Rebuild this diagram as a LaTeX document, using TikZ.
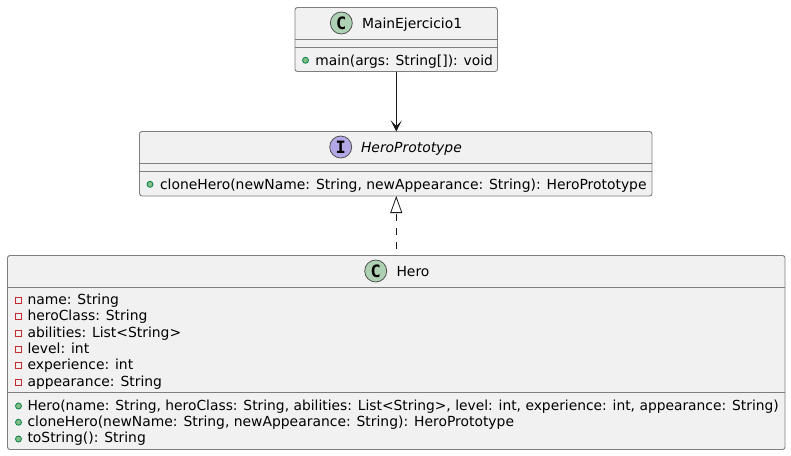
\documentclass[tikz,border=0pt]{standalone}
\usepackage{fontspec}
\setmainfont{DejaVu Sans}
\newfontfamily\spotfont{DejaVu Sans Mono}[Scale=1]
\usetikzlibrary{arrows.meta}
\definecolor{boxfill}{HTML}{F1F1F1}
\definecolor{boxline}{HTML}{7E7E7E}
\definecolor{arrowline}{HTML}{181818}
\definecolor{spotC}{HTML}{ADD1B2}
\definecolor{spotI}{HTML}{B4A7E5}
\definecolor{pubfill}{HTML}{84BE84}
\definecolor{publine}{HTML}{038048}
\definecolor{privline}{HTML}{C82930}
\tikzset{
  x=1pt,y=-1pt,
  umlbox/.style={draw=boxline,fill=boxfill,line width=0.9pt,rounded corners=2.5pt,inner sep=0pt,outer sep=0pt},
  sepline/.style={draw=boxline,line width=0.9pt},
  umltext/.style={anchor=base west,inner sep=0pt,outer sep=0pt,font=\fontsize{13.9}{16}\selectfont,text=black},
  longtext/.style={umltext,font=\fontsize{13.83}{16}\selectfont},
  spot/.style={circle,draw=arrowline!75,line width=0.8pt,minimum size=22pt,inner sep=0pt,outer sep=0pt,font=\spotfont\bfseries\fontsize{17}{17}\selectfont},
  pub/.style={circle,draw=publine,fill=pubfill,line width=0.8pt,minimum size=6pt,inner sep=0pt},
  priv/.style={rectangle,draw=privline,line width=0.8pt,minimum size=6pt,inner sep=0pt},
  conn/.style={draw=arrowline,line width=0.8pt},
}
\begin{document}
\begin{tikzpicture}
\useasboundingbox (0,0) rectangle (791,455);
% boxes
\node[umlbox,minimum width=202.5pt,minimum height=64pt] (main) at (396.25,39.5) {};
\node[umlbox,minimum width=512.5pt,minimum height=64.5pt] (proto) at (395.75,163.75) {};
\node[umlbox,minimum width=777.5pt,minimum height=194pt] (hero) at (396.25,352.5) {};
% compartments
\draw[sepline] (295,39.5) -- (497.5,39.5) (295,47.5) -- (497.5,47.5);
\draw[sepline] (139.5,163) -- (652,163) (139.5,171) -- (652,171);
\draw[sepline] (7.5,287.5) -- (785,287.5) (7.5,392) -- (785,392);
% headers
\node[spot,fill=spotC] (mainspot) at (341.3,23) {C};
\node[umltext] (maintitle) at (362,28.3) {MainEjercicio1};
\node[spot,fill=spotI] (protospot) at (340.7,147) {I};
\node[umltext,font=\fontsize{13.9}{16}\selectfont\itshape] (prototitle) at (361,152.3) {HeroPrototype};
\node[spot,fill=spotC] (herospot) at (375.7,271) {C};
\node[umltext] (herotitle) at (396.5,276.3) {Hero};
% MainEjercicio1 members
\node[pub] (mi1) at (305.5,60.3) {};
\node[longtext] (mt1) at (315.3,65) {main(args: String[]): void};
% HeroPrototype members
\node[pub] (pi1) at (150,184.3) {};
\node[umltext] (pt1) at (160,189) {cloneHero(newName: String, newAppearance: String): HeroPrototype};
% Hero fields
\node[priv] (f1) at (18.5,300.3) {};
\node[umltext] (ft1) at (27.5,304.3) {name: String};
\node[priv] (f2) at (18.5,316.5) {};
\node[umltext] (ft2) at (27.5,320.6) {heroClass: String};
\node[priv] (f3) at (18.5,333) {};
\node[umltext] (ft3) at (27.5,337) {abilities: List<String>};
\node[priv] (f4) at (18.5,349.3) {};
\node[umltext] (ft4) at (27.5,353.3) {level: int};
\node[priv] (f5) at (18.5,365.5) {};
\node[umltext] (ft5) at (27.5,369.5) {experience: int};
\node[priv] (f6) at (18.5,382) {};
\node[umltext] (ft6) at (27.5,386) {appearance: String};
% Hero methods
\node[pub] (h1) at (18.5,406) {};
\node[longtext] (ht1) at (27.5,410) {Hero(name: String, heroClass: String, abilities: List<String>, level: int, experience: int, appearance: String)};
\node[pub] (h2) at (18.5,422.3) {};
\node[umltext] (ht2) at (27.5,426.3) {cloneHero(newName: String, newAppearance: String): HeroPrototype};
\node[pub] (h3) at (18.5,439) {};
\node[umltext] (ht3) at (27.5,442.5) {toString(): String};
% connectors
\draw[conn,-{Stealth[length=11pt,width=11pt,inset=5.5pt]}] (main.south) -- (main.south |- proto.north);
\draw[conn,dash pattern=on 7pt off 7pt,dash phase=7pt,-{Triangle[open,fill=white,length=17pt,width=12pt]}] (hero.north) -- (hero.north |- proto.south);
\end{tikzpicture}
\end{document}
